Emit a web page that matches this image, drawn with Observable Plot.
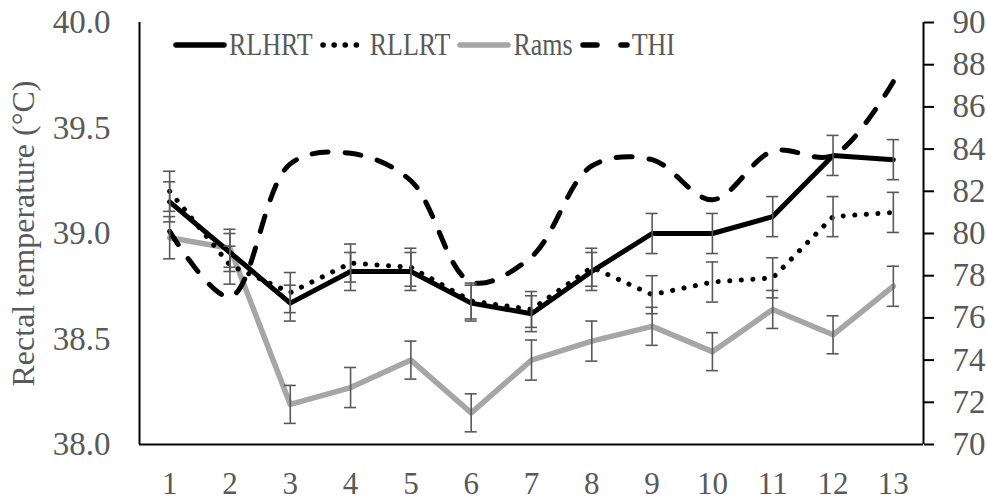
<!DOCTYPE html>
<html>
<head>
<meta charset="utf-8">
<script src="https://cdn.jsdelivr.net/npm/d3@7"></script>
<script src="https://cdn.jsdelivr.net/npm/@observablehq/plot@0.6"></script>
<style>
  html, body { margin: 0; padding: 0; background: #fff; }
  #wrap { position: relative; width: 987px; height: 502px; overflow: hidden; }
  #chart svg, #chart svg text { font-family: "Liberation Serif", "Times New Roman", Times, "DejaVu Serif", serif !important; }
  #legend { position: absolute; left: 173px; top: 29px; display: flex; align-items: center;
            font-family: "Liberation Serif", "Times New Roman", Times, "DejaVu Serif", serif; font-size: 26px; color: #595959; line-height: 32px; }
  #legend .item { display: flex; align-items: center; margin-right: 7px; }
  #legend svg { display: block; margin-right: 2px; }
  #legend span { display: inline-block; transform: scaleY(1.25); }
</style>
</head>
<body>
<div id="wrap">
  <div id="chart"></div>
  <div id="legend"></div>
</div>
<script>
// ---- data ----
const days = [1, 2, 3, 4, 5, 6, 7, 8, 9, 10, 11, 12, 13];
const rlhrt    = [39.15, 38.91, 38.67, 38.82, 38.82, 38.67, 38.62, 38.82, 39.00, 39.00, 39.08, 39.37, 39.35];
const rlhrtErr = [0.095, 0.090, 0.085, 0.090, 0.090, 0.085, 0.085, 0.090, 0.095, 0.095, 0.095, 0.095, 0.095];
const rllrt    = [39.20, 38.85, 38.72, 38.86, 38.84, 38.68, 38.64, 38.84, 38.71, 38.77, 38.79, 39.08, 39.10];
const rllrtErr = [0.095, 0.090, 0.095, 0.090, 0.090, 0.085, 0.085, 0.090, 0.090, 0.095, 0.095, 0.095, 0.095];
const rams     = [38.98, 38.93, 38.19, 38.27, 38.40, 38.15, 38.40, 38.49, 38.56, 38.44, 38.64, 38.52, 38.75];
const ramsErr  = [0.100, 0.090, 0.090, 0.095, 0.090, 0.090, 0.095, 0.095, 0.090, 0.090, 0.090, 0.090, 0.095];
const thi      = [80.1, 77.0, 83.3, 83.8, 82.5, 77.7, 78.9, 83.2, 83.5, 81.6, 83.9, 83.7, 87.2];

const leftTicks  = [38.0, 38.5, 39.0, 39.5, 40.0];
const rightTicks = [70, 72, 74, 76, 78, 80, 82, 84, 86, 88, 90];
const leftDomain  = [38, 40];
const rightDomain = [70, 90];
const yLabel = "Rectal temperature (°C)";
const seriesNames = ["RLHRT", "RLLRT", "Rams", "THI"];

// map THI (right axis) onto left scale
const toLeft = v => leftDomain[0] + (v - rightDomain[0]) * (leftDomain[1] - leftDomain[0]) / (rightDomain[1] - rightDomain[0]);
const toRight = v => rightDomain[0] + (v - leftDomain[0]) * (rightDomain[1] - rightDomain[0]) / (leftDomain[1] - leftDomain[0]);

const mk = (vals, errs) => days.map((d, i) => ({day: d, v: vals[i], e: errs ? errs[i] : 0}));
const dH = mk(rlhrt, rlhrtErr);
const dL = mk(rllrt, rllrtErr);
const dR = mk(rams, ramsErr);
const dT = days.map((d, i) => ({day: d, v: toLeft(thi[i])}));

const grey = "#595959";
const capHalf = 0.1;
const serif = "Liberation Serif, Times New Roman, Times, DejaVu Serif, serif";

function bars(data) {
  return [
    Plot.ruleX(data, {x: "day", y1: d => d.v - d.e, y2: d => d.v + d.e, stroke: grey, strokeWidth: 1.6}),
    Plot.ruleY(data, {y: d => d.v + d.e, x1: d => d.day - capHalf, x2: d => d.day + capHalf, stroke: grey, strokeWidth: 1.6}),
    Plot.ruleY(data, {y: d => d.v - d.e, x1: d => d.day - capHalf, x2: d => d.day + capHalf, stroke: grey, strokeWidth: 1.6})
  ];
}

const chart = Plot.plot({
  width: 987,
  height: 502,
  marginLeft: 139,
  marginRight: 64,
  marginTop: 22,
  marginBottom: 58,
  style: {fontFamily: serif, background: "white", overflow: "visible"},
  x: {domain: [0.5, 13.5]},
  y: {domain: leftDomain},
  marks: [
    Plot.axisX({ticks: days, tickFormat: d => String(d), tickSize: 0, tickPadding: 27, fontSize: 31, fill: grey, label: null}),
    Plot.axisY({ticks: leftTicks, tickFormat: d => d.toFixed(1), tickSize: 0, tickPadding: 29, fontSize: 33, fill: grey,
                label: yLabel, labelAnchor: "center", labelArrow: "none", labelOffset: 128}),
    Plot.axisY({anchor: "right", ticks: rightTicks.map(toLeft), tickFormat: d => String(Math.round(toRight(d))),
                tickSize: 10, tickPadding: 19, stroke: "black", strokeWidth: 2, fontSize: 33, fill: grey, label: null}),
    Plot.ruleY([leftDomain[0]], {stroke: "black", strokeWidth: 2}),
    Plot.ruleX([0.5, 13.5], {stroke: "black", strokeWidth: 2}),
    Plot.line(dR, {x: "day", y: "v", stroke: "#a6a6a6", strokeWidth: 5.5, strokeLinejoin: "round"}),
    Plot.line(dL, {x: "day", y: "v", stroke: "black", strokeWidth: 5, strokeDasharray: "0.1 11.5", strokeLinecap: "round"}),
    Plot.line(dH, {x: "day", y: "v", stroke: "black", strokeWidth: 5, strokeLinejoin: "round"}),
    Plot.line(dT, {x: "day", y: "v", stroke: "black", strokeWidth: 5, strokeDasharray: "16 17", strokeLinecap: "round", curve: "catmull-rom"}),
    ...bars(dH),
    ...bars(dL),
    ...bars(dR)
  ]
});
document.getElementById("chart").appendChild(chart);

// y label font size
chart.querySelectorAll("g[aria-label='y-axis label'] text").forEach(t => t.setAttribute("font-size", 32));

// legend
const swatches = [
  {stroke: "black", dash: null, cap: "round", w: 54},
  {stroke: "black", dash: "0.1 11", cap: "round", w: 48},
  {stroke: "#a6a6a6", dash: null, cap: "round", w: 54},
  {stroke: "black", dash: "14 24", cap: "round", w: 50}
];
const legend = document.getElementById("legend");
seriesNames.forEach((name, i) => {
  const s = swatches[i];
  const item = document.createElement("div");
  item.className = "item";
  const ns = "http://www.w3.org/2000/svg";
  const svg = document.createElementNS(ns, "svg");
  svg.setAttribute("width", s.w);
  svg.setAttribute("height", 12);
  const ln = document.createElementNS(ns, "line");
  ln.setAttribute("x1", 3); ln.setAttribute("x2", s.w - 3);
  ln.setAttribute("y1", 6); ln.setAttribute("y2", 6);
  ln.setAttribute("stroke", s.stroke);
  ln.setAttribute("stroke-width", 5.5);
  ln.setAttribute("stroke-linecap", s.cap);
  if (s.dash) ln.setAttribute("stroke-dasharray", s.dash);
  svg.appendChild(ln);
  item.appendChild(svg);
  const t = document.createElement("span");
  t.textContent = name;
  item.appendChild(t);
  legend.appendChild(item);
});
</script>
</body>
</html>
